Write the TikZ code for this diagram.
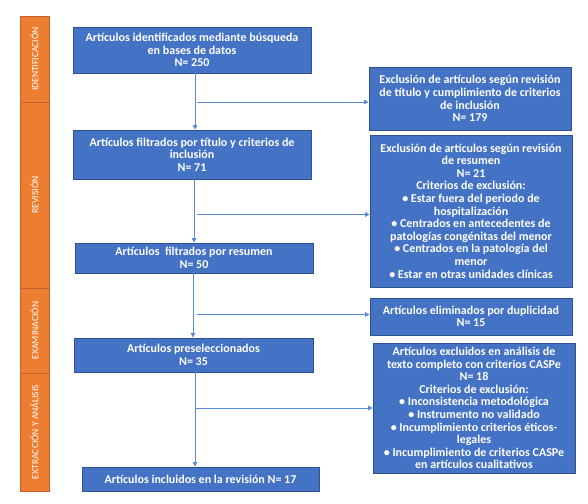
\documentclass[tikz,border=0pt]{standalone}
\usepackage{fontspec}
\setmainfont{Carlito}
\usetikzlibrary{arrows.meta,positioning}
\definecolor{boxblue}{HTML}{4472C4}
\definecolor{boxedge}{HTML}{2F528F}
\definecolor{arrblue}{HTML}{5B8BD6}
\definecolor{phase}{HTML}{ED7D31}
\definecolor{phaseedge}{HTML}{C0622A}
\tikzset{
  mainbox/.style={draw=boxedge, line width=0.8pt, fill=boxblue, text=white, font=\bfseries\fontsize{12}{12.6}\selectfont, align=center, inner sep=0pt},
  phasebox/.style={draw=phaseedge, line width=0.8pt, fill=phase, text=white, font=\fontsize{9.6}{10}\selectfont, inner sep=0pt},
  arr/.style={draw=arrblue, line width=0.8pt, -{Triangle[length=4.5pt,width=4.5pt]}}
}
\begin{document}
\begin{tikzpicture}[x=1pt,y=-1pt]
\useasboundingbox (0,0) rectangle (588,503);
% phase bar
\node[phasebox, minimum width=29pt, minimum height=86pt] (p1) at (34.5,59) {\rotatebox{90}{IDENTIFICACIÓN}};
\node[phasebox, minimum width=29pt, minimum height=186pt] (p2) at (34.5,195) {\rotatebox{90}{REVISIÓN}};
\node[phasebox, minimum width=29pt, minimum height=85pt] (p3) at (34.5,330.5) {\rotatebox{90}{EXAMINACIÓN}};
\node[phasebox, minimum width=29pt, minimum height=118pt] (p4) at (34.5,432) {\rotatebox{90}{EXTRACCIÓN Y ANÁLISIS}};
% main column
\node[mainbox, minimum width=238pt, minimum height=46pt] (b1) at (192,50) {Artículos identificados mediante búsqueda\\en bases de datos\\N= 250};
\node[mainbox, minimum width=238pt, minimum height=49pt] (b2) at (192,154.5) {Artículos filtrados por título y criterios de\\inclusión\\N= 71};
\node[mainbox, minimum width=238pt, minimum height=30pt] (b3) at (194,258) {Artículos\ \ filtrados por resumen\\N= 50};
\node[mainbox, minimum width=239pt, minimum height=34pt] (b4) at (193.5,355) {Artículos preseleccionados\\N= 35};
\node[mainbox, minimum width=237pt, minimum height=24pt] (b5) at (200.5,479) {Artículos incluidos en la revisión N= 17};
% right column
\node[mainbox, minimum width=202pt, minimum height=63pt] (r1) at (470,98.5) {Exclusión de artículos según revisión\\de título y cumplimiento de criterios\\de inclusión\\N= 179};
\node[mainbox, minimum width=202pt, minimum height=152pt] (r2) at (471,211) {Exclusión de artículos según revisión\\de resumen\\N= 21\\Criterios de exclusión:\\• Estar fuera del periodo de\\hospitalización\\• Centrados en antecedentes de\\patologías congénitas del menor\\• Centrados en la patología del\\menor\\• Estar en otras unidades clínicas};
\node[mainbox, minimum width=202pt, minimum height=37pt] (r3) at (471,316.5) {Artículos eliminados por duplicidad\\N= 15};
\node[mainbox, minimum width=202pt, minimum height=130pt] (r4) at (474,408) {Artículos excluidos en análisis de\\texto completo con criterios CASPe\\N= 18\\Criterios de exclusión:\\• Inconsistencia metodológica\\• Instrumento no validado\\• Incumplimiento criterios éticos-\\legales\\• Incumplimiento de criterios CASPe\\en artículos cualitativos};
% vertical arrows
\coordinate (v1) at (195,73);
\coordinate (v2) at (194,179);
\coordinate (v3) at (193,273);
\coordinate (v4) at (195,372);
\draw[arr] (v1) -- (v1 |- b2.north);
\draw[arr] (v2) -- (v2 |- b3.north);
\draw[arr] (v3) -- (v3 |- b4.north);
\draw[arr] (v4) -- (v4 |- b5.north);
% horizontal arrows
\coordinate (h1) at (197,102);
\coordinate (h2) at (197,214.5);
\coordinate (h3) at (197,314.5);
\coordinate (h4) at (195,408);
\draw[arr] (h1) -- (h1 -| r1.west);
\draw[arr] (h2) -- (h2 -| r2.west);
\draw[arr] (h3) -- (h3 -| r3.west);
\draw[arr] (h4) -- (h4 -| r4.west);
\end{tikzpicture}
\end{document}
